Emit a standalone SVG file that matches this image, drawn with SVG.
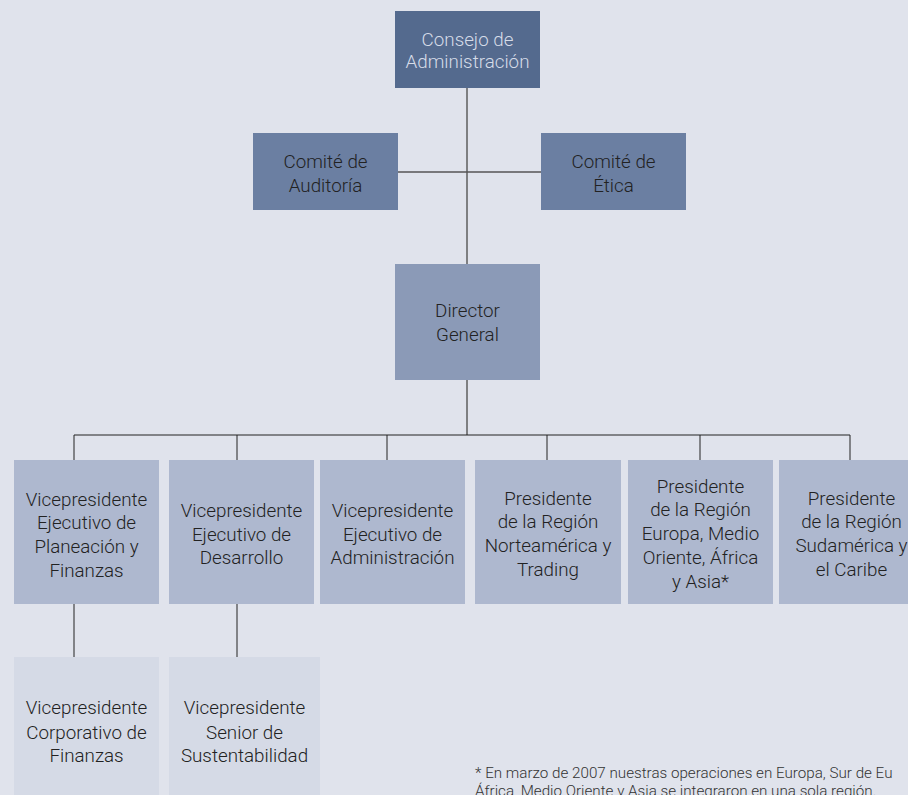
<svg xmlns="http://www.w3.org/2000/svg" width="908" height="795" viewBox="0 0 908 795">
<style>
text{font-family:Roboto,"Liberation Sans",Arial,sans-serif;font-weight:300;font-size:18.8px;fill:#222;text-anchor:middle}
.lt{fill:#d6dce8}
.fn{font-size:15.2px;text-anchor:start;fill:#333}
.up{stroke:#555;stroke-width:1.4;fill:none}
.lo{stroke:#222;stroke-width:1;fill:none}
.n0{fill:#546a8e}.n1{fill:#6b7fa2}.n2{fill:#8b9ab7}.n3{fill:#aeb8cf}.n4{fill:#d5dae6}
</style>
<rect width="908" height="795" fill="#e0e3ec"/>
<g id="connectors">
<path class="up" d="M467 88V264M398 172H541M467 380V435"/>
<path class="lo" d="M74 435H850M74 435V460M237 435V460M387 435V460M547 435V460M700 435V460M850 435V460M74 604V657M237 604V657"/>
</g>
<g id="consejo"><rect class="n0" x="395" y="11" width="145" height="77"/>
<text class="lt" x="467.5" y="46">Consejo de</text><text class="lt" x="467.5" y="68">Administración</text></g>
<g id="auditoria"><rect class="n1" x="253" y="133" width="145" height="77"/>
<text x="325.5" y="168">Comité de</text><text x="325.5" y="191.5">Auditoría</text></g>
<g id="etica"><rect class="n1" x="541" y="133" width="145" height="77"/>
<text x="613.5" y="168">Comité de</text><text x="613.5" y="191.5">Ética</text></g>
<g id="director"><rect class="n2" x="395" y="264" width="145" height="116"/>
<text x="467.5" y="317">Director</text><text x="467.5" y="340.5">General</text></g>
<g id="vp-planeacion"><rect class="n3" x="14" y="460" width="145" height="144"/>
<text x="86.5" y="505.5">Vicepresidente</text><text x="86.5" y="529">Ejecutivo de</text><text x="86.5" y="552.5">Planeación y</text><text x="86.5" y="576.5">Finanzas</text></g>
<g id="vp-desarrollo"><rect class="n3" x="169" y="460" width="145" height="144"/>
<text x="241.5" y="517">Vicepresidente</text><text x="241.5" y="540.5">Ejecutivo de</text><text x="241.5" y="564">Desarrollo</text></g>
<g id="vp-administracion"><rect class="n3" x="320" y="460" width="145" height="144"/>
<text x="392.5" y="517">Vicepresidente</text><text x="392.5" y="540.5">Ejecutivo de</text><text x="392.5" y="564">Administración</text></g>
<g id="p-norteamerica"><rect class="n3" x="475" y="460" width="146" height="144"/>
<text x="548" y="504.5">Presidente</text><text x="548" y="528">de la Región</text><text x="548" y="552">Norteamérica y</text><text x="548" y="576">Trading</text></g>
<g id="p-europa"><rect class="n3" x="628" y="460" width="145" height="144"/>
<text x="700.5" y="492.5">Presidente</text><text x="700.5" y="516">de la Región</text><text x="700.5" y="540">Europa, Medio</text><text x="700.5" y="563.5">Oriente, África</text><text x="700.5" y="587.5">y Asia*</text></g>
<g id="p-sudamerica"><rect class="n3" x="779" y="460" width="145" height="144"/>
<text x="851.5" y="504.5">Presidente</text><text x="851.5" y="528">de la Región</text><text x="851.5" y="552">Sudamérica y</text><text x="851.5" y="576">el Caribe</text></g>
<g id="vp-finanzas"><rect class="n4" x="14" y="657" width="145" height="138"/>
<text x="86.5" y="714">Vicepresidente</text><text x="86.5" y="738.5">Corporativo de</text><text x="86.5" y="762">Finanzas</text></g>
<g id="vp-sustentabilidad"><rect class="n4" x="169" y="657" width="151" height="138"/>
<text x="244.5" y="714">Vicepresidente</text><text x="244.5" y="738.5">Senior de</text><text x="244.5" y="762">Sustentabilidad</text></g>
<g id="nota">
<text class="fn" x="475" y="778">* En marzo de 2007 nuestras operaciones en Europa, Sur de Eu</text>
<text class="fn" x="475" y="796">África, Medio Oriente y Asia se integraron en una sola región.</text>
</g>
</svg>
